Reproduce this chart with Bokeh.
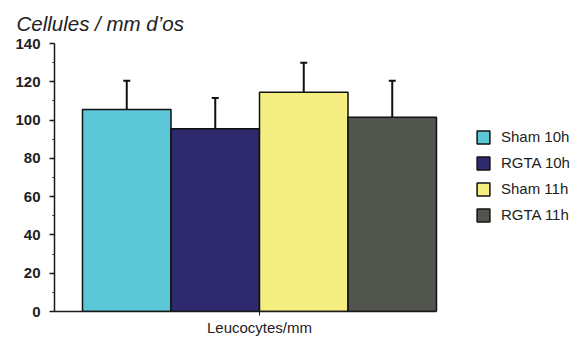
from bokeh.plotting import figure
from bokeh.models import (ColumnDataSource, Range1d, FixedTicker, SingleIntervalTicker,
                          Whisker, TeeHead, Legend, LegendItem)
from bokeh.embed import file_html
from bokeh.resources import INLINE

category = "Leucocytes/mm"
series = ["Sham 10h", "RGTA 10h", "Sham 11h", "RGTA 11h"]
values = [105.5, 95.5, 114.5, 101.5]
errors = [15.0, 16.0, 15.5, 19.0]
colors = ["#5bc7d7", "#2e2a6d", "#f5ee80", "#52544e"]

bar_w = 0.25
xs = [(i - (len(series) - 1) / 2) * bar_w for i in range(len(series))]

# layout (pixels)
W, H = 587, 338
left, right_border, top, bottom = 54, 0, 43, 27
px_per_unit = 354.0
x_start = -0.5 - 28 / px_per_unit
x_end = x_start + (W - left - right_border) / px_per_unit

p = figure(width=W, height=H, output_backend="svg", toolbar_location=None,
           x_range=Range1d(x_start, x_end), y_range=Range1d(0, 140),
           min_border_left=left, min_border_right=right_border,
           min_border_top=top, min_border_bottom=bottom)
p.outline_line_color = None
p.xgrid.visible = False
p.ygrid.visible = False
p.background_fill_color = "white"
p.border_fill_color = "white"

p.title.text = "Cellules / mm d\u2019os"
p.title.text_font = "Liberation Sans"
p.title.text_font_style = "italic"
p.title.text_font_size = "20.5px"
p.title.text_color = "#222222"
p.title.align = "left"
p.title.offset = -38
p.title.standoff = 18

renderers = []
for i, s in enumerate(series):
    src = ColumnDataSource(dict(x=[xs[i]], top=[values[i]]))
    r = p.vbar(x="x", top="top", bottom=0, width=bar_w, source=src,
               fill_color=colors[i], line_color="#111111", line_width=1.5)
    renderers.append((s, r))

wsrc = ColumnDataSource(dict(x=xs, lower=values, upper=[v + e for v, e in zip(values, errors)]))
w = Whisker(base="x", lower="lower", upper="upper", source=wsrc, dimension="height",
            line_color="#111111", line_width=2,
            upper_head=TeeHead(size=7, line_color="#111111", line_width=2), lower_head=None)
p.add_layout(w)

legend = Legend(items=[LegendItem(label=s, renderers=[r]) for s, r in renderers],
                location=(421, 88), orientation="vertical")
legend.glyph_width = 16
legend.glyph_height = 16
legend.label_height = 16
legend.spacing = 9
legend.padding = 0
legend.margin = 0
legend.label_standoff = 10
legend.label_text_font = "Liberation Sans"
legend.label_text_font_size = "15px"
legend.label_text_color = "#222222"
legend.border_line_color = None
legend.background_fill_alpha = 0
p.add_layout(legend, "center")

ya = p.yaxis[0]
ya.ticker = SingleIntervalTicker(interval=20, num_minor_ticks=2)
ya.major_tick_out = 5
ya.major_tick_in = 0
ya.minor_tick_out = 2
ya.minor_tick_in = 0
ya.axis_line_width = 1.5
ya.axis_line_color = "#1a1a1a"
ya.major_tick_line_color = "#1a1a1a"
ya.major_tick_line_width = 1.5
ya.minor_tick_line_color = "#1a1a1a"
ya.major_label_text_font = "Liberation Sans"
ya.major_label_text_font_size = "15px"
ya.major_label_text_font_style = "bold"
ya.major_label_text_color = "#222222"
ya.major_label_standoff = 9

xa = p.xaxis[0]
xa.bounds = (x_start, 0.5)
xa.ticker = FixedTicker(ticks=[0])
xa.major_label_overrides = {0: category}
xa.major_tick_out = 4
xa.major_tick_in = 0
xa.minor_tick_line_color = None
xa.axis_line_width = 1.5
xa.axis_line_color = "#1a1a1a"
xa.major_tick_line_color = "#1a1a1a"
xa.major_label_text_font = "Liberation Sans"
xa.major_label_text_font_size = "15px"
xa.major_label_text_color = "#222222"
xa.major_label_standoff = 3

open("out.html", "w").write(file_html(p, INLINE))
